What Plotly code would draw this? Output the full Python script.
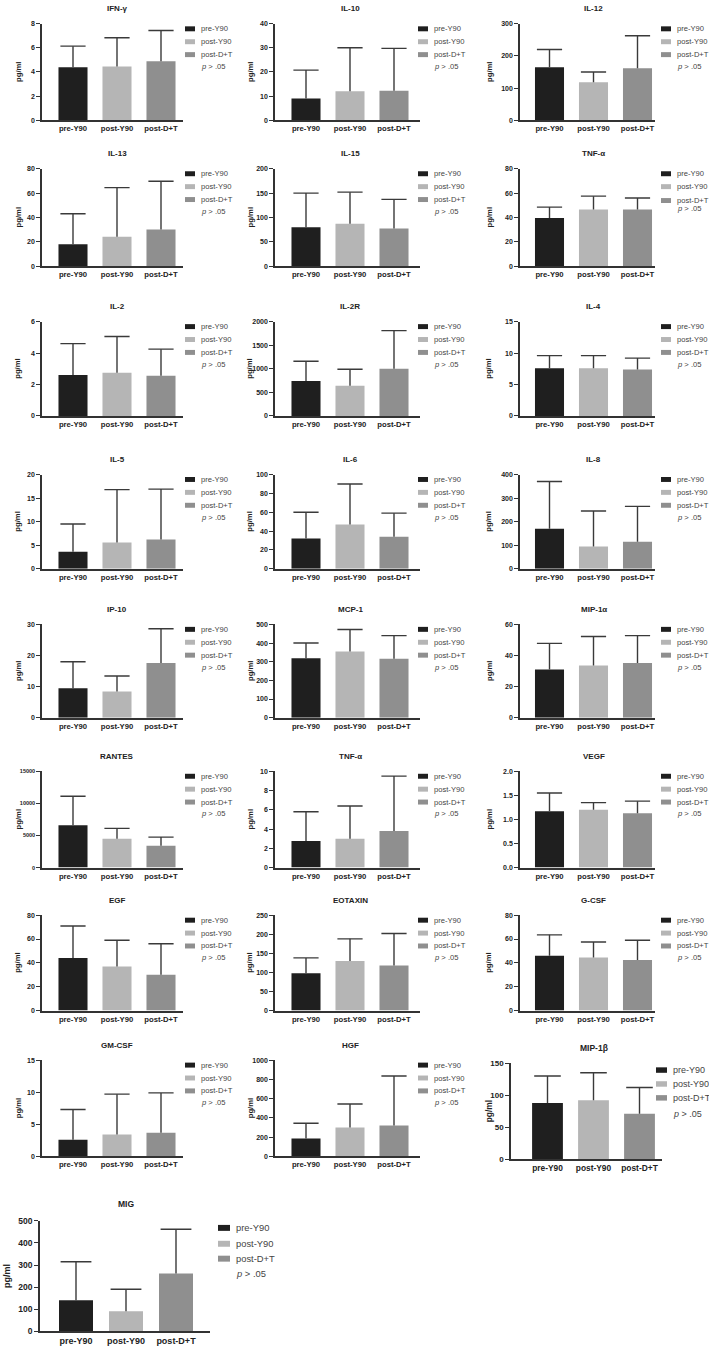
import plotly.graph_objects as go

W, H = 709, 1353

cytokines = ["IFN-γ", "IL-10", "IL-12", "IL-13", "IL-15", "TNF-α", "IL-2", "IL-2R", "IL-4",
             "IL-5", "IL-6", "IL-8", "IP-10", "MCP-1", "MIP-1α", "RANTES", "TNF-α", "VEGF",
             "EGF", "EOTAXIN", "G-CSF", "GM-CSF", "HGF", "MIP-1β", "MIG"]
groups = ["pre-Y90", "post-Y90", "post-D+T"]

pre_y90_mean = [4.4, 9.0, 165, 18, 80, 39.5, 2.6, 740, 7.6, 3.6, 32, 170, 9.5, 318, 31, 6600,
                2.75, 1.17, 44, 98, 46, 2.6, 185, 88, 140]
post_y90_mean = [4.45, 12.0, 118, 24, 87, 46.5, 2.75, 640, 7.6, 5.6, 47, 95, 8.4, 355, 33.5, 4500,
                 3.0, 1.20, 37, 130, 44.5, 3.4, 300, 92, 90]
post_dt_mean = [4.9, 12.2, 162, 30, 77, 46.5, 2.55, 1000, 7.4, 6.2, 34, 115, 17.6, 316, 35.2, 3400,
                3.8, 1.13, 30, 118, 42.5, 3.7, 320, 71, 262]

pre_y90_sd = [1.75, 11.8, 55, 25, 70, 9, 2.0, 420, 2.0, 5.9, 28, 200, 8.5, 82, 16.8, 4500,
              3.05, 0.38, 27, 40, 17.5, 4.7, 160, 42, 175]
post_y90_sd = [2.4, 18.1, 32, 40.5, 65, 11, 2.3, 350, 2.0, 11.2, 43, 150, 5.0, 118, 18.7, 1600,
               3.4, 0.15, 22, 58, 13, 6.3, 245, 43, 100]
post_dt_sd = [2.55, 17.6, 101, 39.8, 60, 9.5, 1.7, 810, 1.8, 10.7, 25, 150, 11.0, 124, 17.6, 1350,
              5.7, 0.25, 26, 84, 16.5, 6.2, 515, 41, 200]

y_max = [8, 40, 300, 80, 200, 80, 6, 2000, 15, 20, 100, 400, 30, 500, 60, 15000, 10, 2.0, 80, 250,
         80, 15, 1000, 150, 500]
y_step = [2, 10, 100, 20, 50, 20, 2, 500, 5, 5, 20, 100, 10, 100, 20, 5000, 2, 0.5, 20, 50, 20, 5,
          200, 50, 100]

means = [pre_y90_mean, post_y90_mean, post_dt_mean]
sds = [pre_y90_sd, post_y90_sd, post_dt_sd]
colors = ["#1f1f1f", "#b5b5b5", "#8f8f8f"]
AX = "#333333"
ERR = "#3a3a3a"
FONT = "Liberation Sans, Arial, sans-serif"

# ---- panel geometry (pixels) ----
cols = [dict(x0=42, x1=183, c0=73, legx=185, ttl=24),
        dict(x0=275, x1=420, c0=306, legx=418, ttl=25),
        dict(x0=520, x1=655, c0=549.5, legx=661, ttl=31)]
rows = [(19, 116), (165, 263), (319, 414), (473, 568), (624, 718), (772, 869), (917, 1013),
        (1063, 1160)]

panels = []
for i in range(24):
    c = cols[i % 3]
    yt, yb = rows[i // 3]
    panels.append(dict(x0=c["x0"], x1=c["x1"], c0=c["c0"], sp=44, bw=0.66, yt=yt, yb=yb,
                       legx=c["legx"], legw=10, legh=5, legdy=[5, 18, 31, 43], ttl=c["ttl"],
                       tick=7, cat=7.7, title=8, leg=7.6, tdy=15, cap=18))
panels[5]["legdy"] = [5, 18, 32, 40]
panels[23].update(x0=511, x1=662, c0=547.5, sp=46, bw=0.67, yt=1066, yb=1163, legx=656, legw=11,
                  legh=5.5, legdy=[7, 21, 35, 51], ttl=22, tick=8, cat=8.4, title=8.5, leg=9,
                  tdy=15, cap=19)
panels.append(dict(x0=40, x1=210, c0=76, sp=50, bw=0.68, yt=1225, yb=1336, legx=218, legw=12,
                   legh=6, legdy=[7, 23, 38, 53], ttl=33, tick=8.5, cat=9, title=8.5, leg=9.4,
                   tdy=17, cap=22))


def px(x):
    return x / W


def py(y):
    return 1 - y / H


fig = go.Figure()
layout = dict(width=W, height=H, margin=dict(l=0, r=0, t=0, b=0), plot_bgcolor="white",
              paper_bgcolor="white", showlegend=False, barmode="overlay",
              font=dict(family=FONT, color="#222"))
annotations = []
shapes = []

for i, name in enumerate(cytokines):
    p = panels[i]
    n = "" if i == 0 else str(i + 1)
    xa, ya = "x" + n, "y" + n
    for g in range(3):
        m, s = means[g][i], sds[g][i]
        fig.add_trace(go.Bar(
            x=[g], y=[m], width=[p["bw"]], xaxis=xa, yaxis=ya, name=groups[g],
            marker=dict(color=colors[g], line=dict(width=0))))
        # upward-only error whisker with a cap at its top
        fig.add_trace(go.Scatter(
            x=[g], y=[m + s], xaxis=xa, yaxis=ya, mode="markers", name=groups[g],
            marker=dict(symbol="line-ew", size=p["cap"], color=ERR,
                        line=dict(width=1.4, color=ERR)),
            error_y=dict(type="data", symmetric=False, array=[0], arrayminus=[s],
                         color=ERR, thickness=1.4, width=0)))
    xr = [(p["x0"] - p["c0"]) / p["sp"], (p["x1"] - p["c0"]) / p["sp"]]
    layout["xaxis" + n] = dict(domain=[px(p["x0"]), px(p["x1"])], anchor=ya, range=xr,
                               tickvals=[0, 1, 2], ticktext=groups, showline=True, linecolor=AX,
                               linewidth=1.5, ticks="", showgrid=False, zeroline=False,
                               tickfont=dict(family=FONT, size=p["cat"], color="#222",
                                             weight="bold"))
    ydict = dict(domain=[py(p["yb"]), py(p["yt"])], anchor=xa, range=[0, y_max[i]], tick0=0,
                 dtick=y_step[i], showline=True, linecolor=AX, linewidth=1.5, ticks="outside",
                 ticklen=4, tickwidth=1.2, tickcolor=AX, showgrid=False, zeroline=False,
                 tickformat="d",
                 tickfont=dict(family=FONT, size=p["tick"] if y_max[i] < 10000 else 5.5,
                               color="#222", weight="bold"))
    if name == "VEGF":
        ydict["tickformat"] = ".1f"
    layout["yaxis" + n] = ydict
    # title
    annotations.append(dict(text="<b>%s</b>" % name, xref="paper", yref="paper",
                            x=px(p["c0"] + p["sp"]), y=py(p["yt"] - p["tdy"]), showarrow=False,
                            xanchor="center", yanchor="middle",
                            font=dict(family=FONT, size=p["title"], color="#222")))
    # y-axis title
    annotations.append(dict(text="<b>pg/ml</b>", xref="paper", yref="paper", textangle=-90,
                            x=px(p["x0"] - p["ttl"]), y=py((p["yt"] + p["yb"]) / 2),
                            showarrow=False, xanchor="center", yanchor="middle",
                            font=dict(family=FONT, size=p["cat"], color="#222")))
    # legend
    for g in range(3):
        yc = p["yt"] + p["legdy"][g]
        shapes.append(dict(type="rect", xref="paper", yref="paper", x0=px(p["legx"]),
                           x1=px(p["legx"] + p["legw"]), y0=py(yc + p["legh"] / 2),
                           y1=py(yc - p["legh"] / 2), fillcolor=colors[g], line=dict(width=0)))
        annotations.append(dict(text=groups[g], xref="paper", yref="paper",
                                x=px(p["legx"] + p["legw"] + 4), y=py(yc), showarrow=False,
                                xanchor="left", yanchor="middle",
                                font=dict(family=FONT, size=p["leg"], color="#444")))
    annotations.append(dict(text="<i>p</i> &gt; .05", xref="paper", yref="paper",
                            x=px(p["legx"] + p["legw"] + 4), y=py(p["yt"] + p["legdy"][3]),
                            showarrow=False, xanchor="left", yanchor="middle",
                            font=dict(family=FONT, size=p["leg"], color="#444")))

layout["annotations"] = annotations
layout["shapes"] = shapes
fig.update_layout(**layout)
fig.write_html("out.html", config={"displayModeBar": False},
               post_script="document.body.style.margin='0';document.body.style.overflow='hidden';")
